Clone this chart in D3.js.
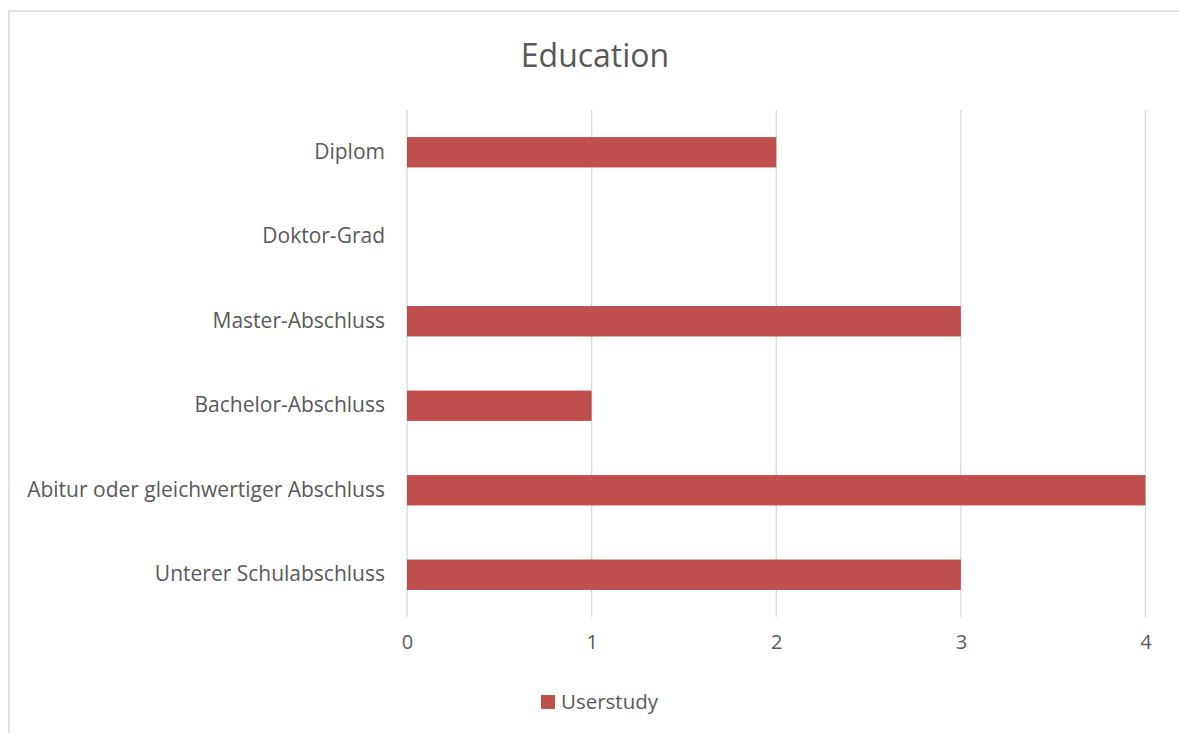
<!DOCTYPE html>
<html>
<head>
<meta charset="utf-8">
<script src="https://cdn.jsdelivr.net/npm/d3@7"></script>
<style>
html,body{margin:0;padding:0;background:#fff;}
svg text{font-family:"Open Sans",sans-serif;fill:#595959;}
</style>
</head>
<body>
<svg id="chart" width="1179" height="733"></svg>
<script>
const title = "Education";
const categories = ["Diplom","Doktor-Grad","Master-Abschluss","Bachelor-Abschluss","Abitur oder gleichwertiger Abschluss","Unterer Schulabschluss"];
const values = [2,0,3,1,4,3];
const seriesName = "Userstudy";
const tickValues = [0,1,2,3,4];

const svg = d3.select("#chart");
// chart border
svg.append("rect").attr("x",9).attr("y",11).attr("width",1200).attr("height",800)
  .attr("fill","none").attr("stroke","#d9d9d9").attr("stroke-width",1.5);

const x = d3.scaleLinear().domain([0,4]).range([407,1145.5]);
const y = d3.scaleBand().domain(categories).range([110,617]).paddingInner(0.64).paddingOuter(0.32);

// gridlines
svg.append("g").selectAll("line").data(tickValues).join("line")
  .attr("x1",d=>x(d)).attr("x2",d=>x(d)).attr("y1",110).attr("y2",617)
  .attr("stroke","#d9d9d9").attr("stroke-width",1.3);

// bars
svg.append("g").selectAll("rect").data(categories).join("rect")
  .attr("x",x(0)).attr("y",d=>y(d))
  .attr("width",(d,i)=>x(values[i])-x(0)).attr("height",y.bandwidth())
  .attr("fill","#C0504D");

// x axis
const xAxis = svg.append("g").attr("transform","translate(0,640)")
  .call(d3.axisBottom(x).tickValues(tickValues).tickFormat(d3.format("d")).tickSize(0).tickPadding(0));
xAxis.select(".domain").remove();
xAxis.selectAll("text").attr("font-size",20).attr("dy","0.45em").style("font-family","Open Sans");

// y axis
const yAxis = svg.append("g").attr("transform","translate(385,0)")
  .call(d3.axisLeft(y).tickSize(0).tickPadding(0));
yAxis.select(".domain").remove();
yAxis.selectAll("text").attr("font-size",21).style("font-family","Open Sans");

// title
svg.append("text").attr("x",595).attr("y",67).attr("text-anchor","middle")
  .attr("font-size",32).text(title);

// legend
svg.append("rect").attr("x",541).attr("y",695).attr("width",14).attr("height",14).attr("fill","#C0504D");
svg.append("text").attr("x",561).attr("y",702).attr("dy","0.35em").attr("font-size",20.5).text(seriesName);
</script>
</body>
</html>
